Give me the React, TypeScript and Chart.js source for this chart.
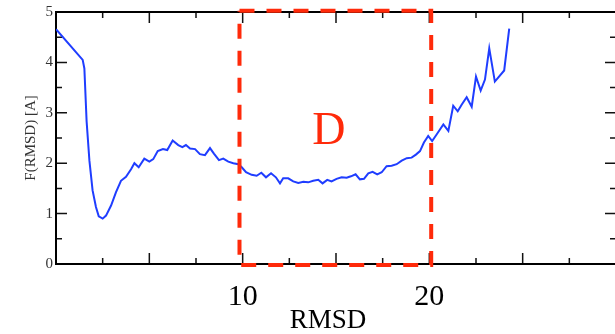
import React, { useEffect, useRef } from "react";
import { Chart, registerables } from "chart.js";

Chart.register(...registerables);

const rmsd = [
  0, 1.43, 1.52, 1.64, 1.79, 1.96, 2.14, 2.29, 2.5, 2.68, 2.95, 3.21, 3.48, 3.75, 4.02, 4.2, 4.43, 4.73, 5.0, 5.21,
  5.45, 5.73, 5.96, 6.25, 6.55, 6.77, 6.96, 7.18, 7.45, 7.71, 7.98, 8.25, 8.46, 8.73, 8.96, 9.23, 9.5, 9.77, 9.95,
  10.18, 10.48, 10.75, 11.0, 11.25, 11.52, 11.78, 12.0, 12.17, 12.44, 12.71, 12.98, 13.25, 13.51, 13.78, 14.05,
  14.28, 14.53, 14.76, 15.03, 15.3, 15.57, 15.8, 16.05, 16.28, 16.5, 16.73, 16.96, 17.21, 17.45, 17.71, 17.98,
  18.25, 18.52, 18.79, 19.05, 19.28, 19.5, 19.71, 19.94, 20.15, 20.39, 20.75, 21.02, 21.28, 21.52, 21.73, 22.0,
  22.27, 22.5, 22.75, 22.98, 23.21, 23.51, 24.01, 24.28,
];
const freeEnergy = [
  4.66, 4.05, 3.88, 2.83, 2.05, 1.46, 1.13, 0.945, 0.9, 0.96, 1.16, 1.42, 1.65, 1.73, 1.88, 2.0, 1.92, 2.09, 2.03, 2.08,
  2.24, 2.28, 2.26, 2.45, 2.36, 2.32, 2.36, 2.29, 2.28, 2.18, 2.16, 2.3, 2.19, 2.06, 2.09, 2.03, 2.0, 1.98, 1.92,
  1.82, 1.77, 1.75, 1.81, 1.72, 1.8, 1.72, 1.6, 1.7, 1.7, 1.64, 1.61, 1.63, 1.62, 1.65, 1.67,
  1.6, 1.67, 1.64, 1.69, 1.72, 1.71, 1.74, 1.78, 1.68, 1.69, 1.8, 1.83, 1.78, 1.82, 1.94, 1.95,
  1.98, 2.05, 2.1, 2.11, 2.17, 2.24, 2.41, 2.54, 2.44, 2.57, 2.77, 2.64, 3.14, 3.03, 3.16, 3.31,
  3.12, 3.72, 3.44, 3.66, 4.28, 3.62, 3.84, 4.67,
];

// Region "D" box (data coordinates)
const boxX = [9.83, 20.1, 20.1, 9.83, 9.83];
const boxY = [5.026, 5.026, -0.02, -0.02, 5.026];
const regionLabel = "D";
const regionLabelX = 14.62;
const regionLabelY = 2.38;

const xLabeled = [10, 20];
const xTitle = "RMSD";
const xTitleCenter = 14.57;
const yTitle = "F(RMSD) [A]";

const SERIF = "'Liberation Serif', 'Times New Roman', Times, serif";

const framePlugin = {
  id: "frame",
  beforeDatasetsDraw(chart: any) {
    const { ctx, chartArea } = chart;
    const xs = chart.scales.x;
    const ys = chart.scales.y;
    const { left, right, top, bottom } = chartArea;
    ctx.save();
    ctx.strokeStyle = "#111";
    ctx.lineWidth = 1.5;
    const major = 11;
    const minor = 6;
    for (let v = ys.min; v <= ys.max + 1e-9; v += 0.5) {
      const p = ys.getPixelForValue(v);
      const len = Math.abs(v - Math.round(v)) < 1e-6 ? major : minor;
      ctx.beginPath();
      ctx.moveTo(left, p);
      ctx.lineTo(left + len, p);
      ctx.moveTo(right, p);
      ctx.lineTo(right - len, p);
      ctx.stroke();
    }
    for (let v = xs.min; v <= xs.max + 1e-9; v += 2.5) {
      const p = xs.getPixelForValue(v);
      const len = Math.abs(v / 5 - Math.round(v / 5)) < 1e-6 ? major : minor;
      ctx.beginPath();
      ctx.moveTo(p, bottom);
      ctx.lineTo(p, bottom - len);
      ctx.moveTo(p, top);
      ctx.lineTo(p, top + len);
      ctx.stroke();
    }
    ctx.lineWidth = 2;
    ctx.strokeStyle = "#000";
    ctx.strokeRect(left, top, right - left, bottom - top);
    ctx.restore();
  },
  afterDraw(chart: any) {
    const { ctx } = chart;
    const xs = chart.scales.x;
    const ys = chart.scales.y;
    ctx.save();
    ctx.fillStyle = "#ff2a0a";
    ctx.font = `46px ${SERIF}`;
    ctx.textAlign = "center";
    ctx.textBaseline = "alphabetic";
    ctx.fillText(regionLabel, xs.getPixelForValue(regionLabelX), ys.getPixelForValue(regionLabelY));
    ctx.fillStyle = "#000";
    ctx.font = `27px ${SERIF}`;
    ctx.fillText(xTitle, xs.getPixelForValue(xTitleCenter), xs.bottom - 6);
    ctx.restore();
  },
};

export default function App() {
  const ref = useRef<HTMLCanvasElement | null>(null);
  useEffect(() => {
    if (!ref.current) return;
    const chart = new Chart(ref.current, {
      type: "line",
      data: {
        datasets: [
          {
            data: boxX.map((x, i) => ({ x, y: boxY[i] })),
            borderColor: "#ff2a0a",
            borderWidth: 4,
            borderDash: [15, 12],
            pointRadius: 0,
            fill: false,
            tension: 0,
            clip: false as any,
            order: 0,
          },
          {
            data: rmsd.map((x, i) => ({ x, y: freeEnergy[i] })),
            borderColor: "#1f3dff",
            borderWidth: 2,
            pointRadius: 0,
            fill: false,
            tension: 0,
            order: 1,
          },
        ],
      },
      options: {
        animation: false,
        responsive: false,
        maintainAspectRatio: false,
        layout: { padding: { top: 10.5, right: 24, left: 0, bottom: 0 } },
        plugins: { legend: { display: false }, tooltip: { enabled: false } },
        scales: {
          x: {
            type: "linear",
            min: 0,
            max: 30,
            afterFit: (s: any) => {
              s.height = 70;
            },
            grid: { display: false, drawTicks: false },
            border: { display: false },
            ticks: {
              stepSize: 5,
              autoSkip: false,
              maxRotation: 0,
              padding: 15,
              color: "#000",
              font: { family: SERIF, size: 30 },
              callback: (v: any) => (xLabeled.includes(Number(v)) ? String(v) : ""),
            },
            title: { display: false },
          },
          y: {
            type: "linear",
            min: 0,
            max: 5,
            afterFit: (s: any) => {
              s.width = 56;
            },
            grid: { display: false, drawTicks: false },
            border: { display: false },
            ticks: {
              stepSize: 1,
              padding: 3,
              color: "#333",
              font: { family: SERIF, size: 15 },
            },
            title: {
              display: true,
              text: yTitle,
              color: "#333",
              font: { family: SERIF, size: 15 },
              padding: { top: 22, bottom: 0 },
            },
          },
        },
      },
      plugins: [framePlugin],
    });
    return () => chart.destroy();
  }, []);
  return (
    <div
      style={{
        position: "fixed",
        left: 0,
        top: 0,
        width: 615,
        height: 334,
        overflow: "hidden",
        background: "#fff",
      }}
    >
      <canvas ref={ref} width={640} height={334} style={{ display: "block" }} />
    </div>
  );
}
